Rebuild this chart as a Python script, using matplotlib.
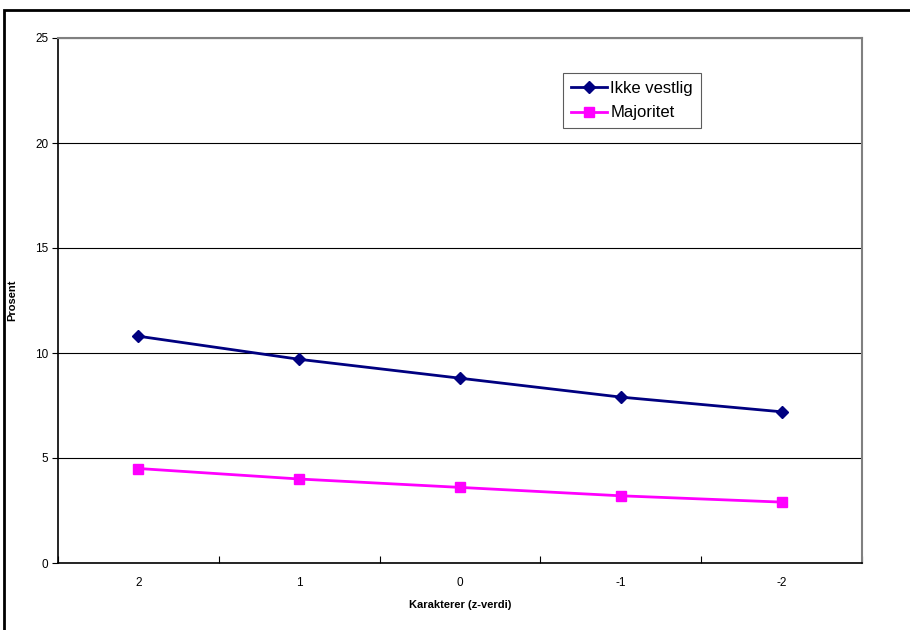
import matplotlib
matplotlib.use("Agg")
import matplotlib.pyplot as plt
from matplotlib.patches import Rectangle

plt.rcParams['font.family'] = ['Liberation Sans', 'DejaVu Sans']

categories = ['2', '1', '0', '-1', '-2']
ikke_vestlig = [10.8, 9.7, 8.8, 7.9, 7.2]
majoritet = [4.5, 4.0, 3.6, 3.2, 2.9]

fig = plt.figure(figsize=(9.1, 6.3), dpi=100)
ax = fig.add_axes([58/910, 1 - 563/630, 804/910, 525/630])

x = list(range(len(categories)))
ax.plot(x, ikke_vestlig, color='#000080', marker='D', markersize=6, linewidth=2, label='Ikke vestlig')
ax.plot(x, majoritet, color='#FF00FF', marker='s', markersize=7, linewidth=2, label='Majoritet')

ax.set_xlim(-0.5, len(categories) - 0.5)
ax.set_ylim(0, 25)
ax.set_yticks([0, 5, 10, 15, 20, 25])
ax.yaxis.grid(True, color='black', linewidth=0.8)
ax.set_axisbelow(True)

ax.set_xticks([i - 0.5 for i in range(len(categories) + 1)])
ax.set_xticklabels([])
ax.set_xticks(x, minor=True)
ax.set_xticklabels(categories, minor=True)
ax.tick_params(axis='x', which='minor', length=0, pad=10, labelsize=8.5)
ax.tick_params(axis='x', which='major', length=5, direction='in', color='black')
ax.tick_params(axis='y', length=4, direction='out', labelsize=8.5, pad=3)

for s in ['top', 'right']:
    ax.spines[s].set_color('#808080')
    ax.spines[s].set_linewidth(1.5)
for s in ['left', 'bottom']:
    ax.spines[s].set_color('black')
    ax.spines[s].set_linewidth(1.2)

ax.set_xlabel('Karakterer (z-verdi)', fontsize=8, fontweight='bold', labelpad=8)
ax.set_ylabel('Prosent', fontsize=8, fontweight='bold')
ax.yaxis.set_label_coords(-41/804, 0.5)

leg = ax.legend(loc='upper left', bbox_to_anchor=(505/804, 1 - 35/525), fontsize=12,
                frameon=True, fancybox=False, edgecolor='#333333', handlelength=2.2,
                borderpad=0.45, labelspacing=0.6, handletextpad=0.2, borderaxespad=0)
leg.get_frame().set_linewidth(0.8)

fig.patches.append(Rectangle((4/910, -0.1), 1.2, 1 - 10/630 + 0.1, transform=fig.transFigure,
                             fill=False, edgecolor='black', linewidth=2))

fig.savefig('out.png', dpi=100)
